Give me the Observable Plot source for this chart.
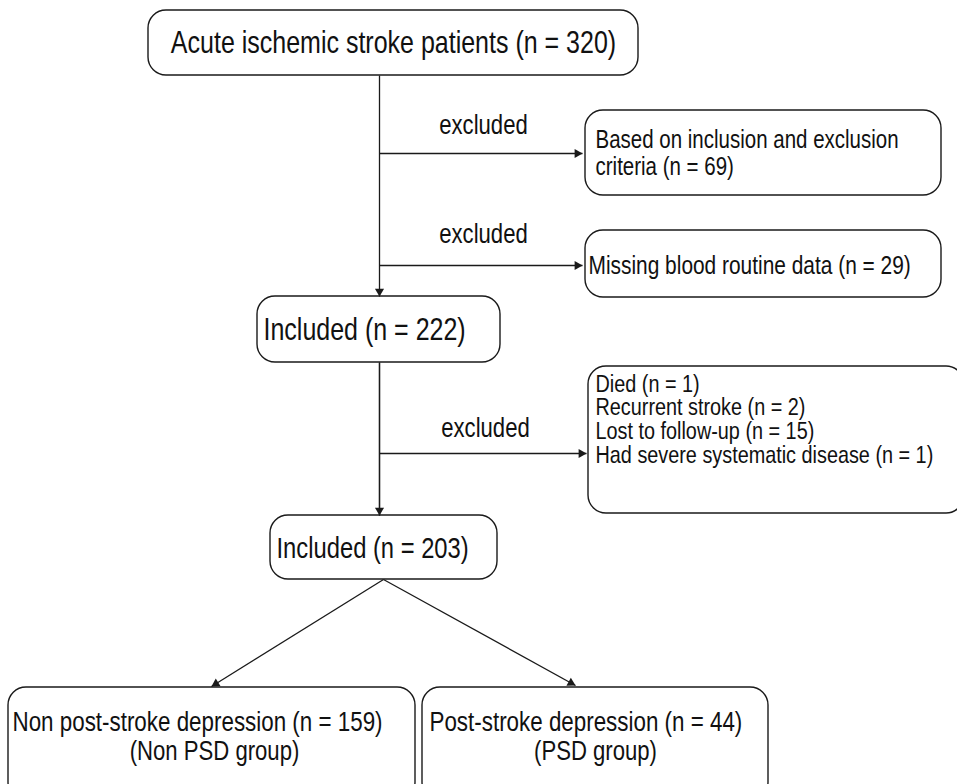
<!DOCTYPE html>
<html><head><meta charset="utf-8">
<script src="https://cdn.jsdelivr.net/npm/d3@7"></script>
<script src="https://cdn.jsdelivr.net/npm/@observablehq/plot@0.6"></script>
<style>body{margin:0;background:#fff}</style>
</head><body><div id="chart"></div>
<script>
// Flowchart boxes
const boxNames  = ["enrolled","exclCriteria","exclBlood","included222","exclFollow","included203","nonPSD","PSD"];
const boxLeft   = [148, 585, 585, 257, 588, 270,   8, 422];
const boxRight  = [638, 941, 941, 500, 964, 497, 415, 768];
const boxTop    = [ 10, 110, 230, 296, 366, 515, 687, 687];
const boxBottom = [ 75, 195, 297, 362, 513, 579, 800, 800];

// Labels
const labelText = [
  "Acute ischemic stroke patients (n = 320)",
  "excluded",
  "Based on inclusion and exclusion\ncriteria (n = 69)",
  "excluded",
  "Missing blood routine data (n = 29)",
  "Included (n = 222)",
  "excluded",
  "Died (n = 1)\nRecurrent stroke (n = 2)\nLost to follow-up (n = 15)\nHad severe systematic disease (n = 1)",
  "Included (n = 203)",
  "Non post-stroke depression (n = 159)",
  "(Non PSD group)",
  "Post-stroke depression (n = 44)",
  "(PSD group)"
];
const labelX      = [393, 483, 595, 483, 588, 263, 485, 595, 276,  12, 214, 429, 595];
const labelY      = [ 43, 125, 152, 234, 265, 330, 428, 419, 548, 722, 751, 722, 751];
const labelAnchor = ["middle","middle","start","middle","start","start","middle","start","start","start","middle","start","middle"];
const labelSize   = [30.5, 27, 25, 27, 25.5, 30.5, 27, 24.2, 29, 27.3, 27, 27.3, 27];
const labelLead   = [1, 1, 1.08, 1, 1, 1, 1, 0.98, 1, 1, 1, 1, 1];

// Connectors (start -> end); arrow flags
const linkX1 = [379, 379, 379, 379, 379, 379, 383, 383];
const linkY1 = [ 75, 153, 265, 362, 453, 362, 579, 579];
const linkX2 = [379, 582, 582, 379, 586, 379, 211, 575];
const linkY2 = [296, 153, 265, 515, 453, 515, 686, 685];
const linkArrow = [true, true, true, false, true, true, true, true];

const boxes = boxNames.map((n,i)=>({name:n, x1:boxLeft[i], x2:boxRight[i], y1:boxTop[i], y2:boxBottom[i]}));
const links = linkX1.map((_,i)=>({x1:linkX1[i], y1:linkY1[i], x2:linkX2[i], y2:linkY2[i], arrow:linkArrow[i]}));
const heads = links.filter(d=>d.arrow).map(d=>{
  const dx = d.x2-d.x1, dy = d.y2-d.y1, L = Math.hypot(dx,dy);
  const off = 5.2;
  return {x: d.x2 - dx/L*off, y: d.y2 - dy/L*off, angle: Math.atan2(dx, -dy)*180/Math.PI};
});

// Font detection: prefer a narrow face
const ctx = document.createElement("canvas").getContext("2d");
ctx.font = "30px 'Liberation Sans Narrow', monospace";
const wN = ctx.measureText("Acute ischemic stroke").width;
ctx.font = "30px monospace";
const wM = ctx.measureText("Acute ischemic stroke").width;
const hasNarrow = Math.abs(wN - wM) > 0.5;
const family = hasNarrow ? "'Liberation Sans Narrow', 'Arial Narrow', sans-serif" : "'Liberation Sans', Arial, sans-serif";

const textMarks = labelText.map((t,i)=>Plot.text([{t, x:labelX[i], y:labelY[i]}], {
  x:"x", y:"y", text:"t", textAnchor:labelAnchor[i], fontSize:labelSize[i],
  lineHeight:labelLead[i], fill:"#111", fontFamily:family
}));

const chart = Plot.plot({
  width: 957, height: 784,
  margin: 0,
  x: {domain:[0,957], axis:null},
  y: {domain:[0,784], axis:null, range:[0,784]},
  style: {background:"#fff", fontFamily: family},
  marks: [
    Plot.link(links, {x1:"x1", y1:"y1", x2:"x2", y2:"y2", stroke:"#1a1a1a", strokeWidth:1.3}),
    Plot.dot(heads, {x:"x", y:"y", symbol:"triangle", r:3.4, fill:"#1a1a1a", stroke:"none", rotate:"angle"}),
    Plot.rect(boxes, {x1:"x1", x2:"x2", y1:"y1", y2:"y2", fill:"none", stroke:"#1a1a1a", strokeWidth:1.4, rx:18}),
    ...textMarks
  ]
});
if (!hasNarrow) {
  chart.querySelectorAll("text").forEach(el=>{
    const tr = el.getAttribute("transform") || "";
    el.setAttribute("transform", tr + " scale(0.82,1)");
  });
}
document.getElementById("chart").appendChild(chart);
</script>
</body></html>
